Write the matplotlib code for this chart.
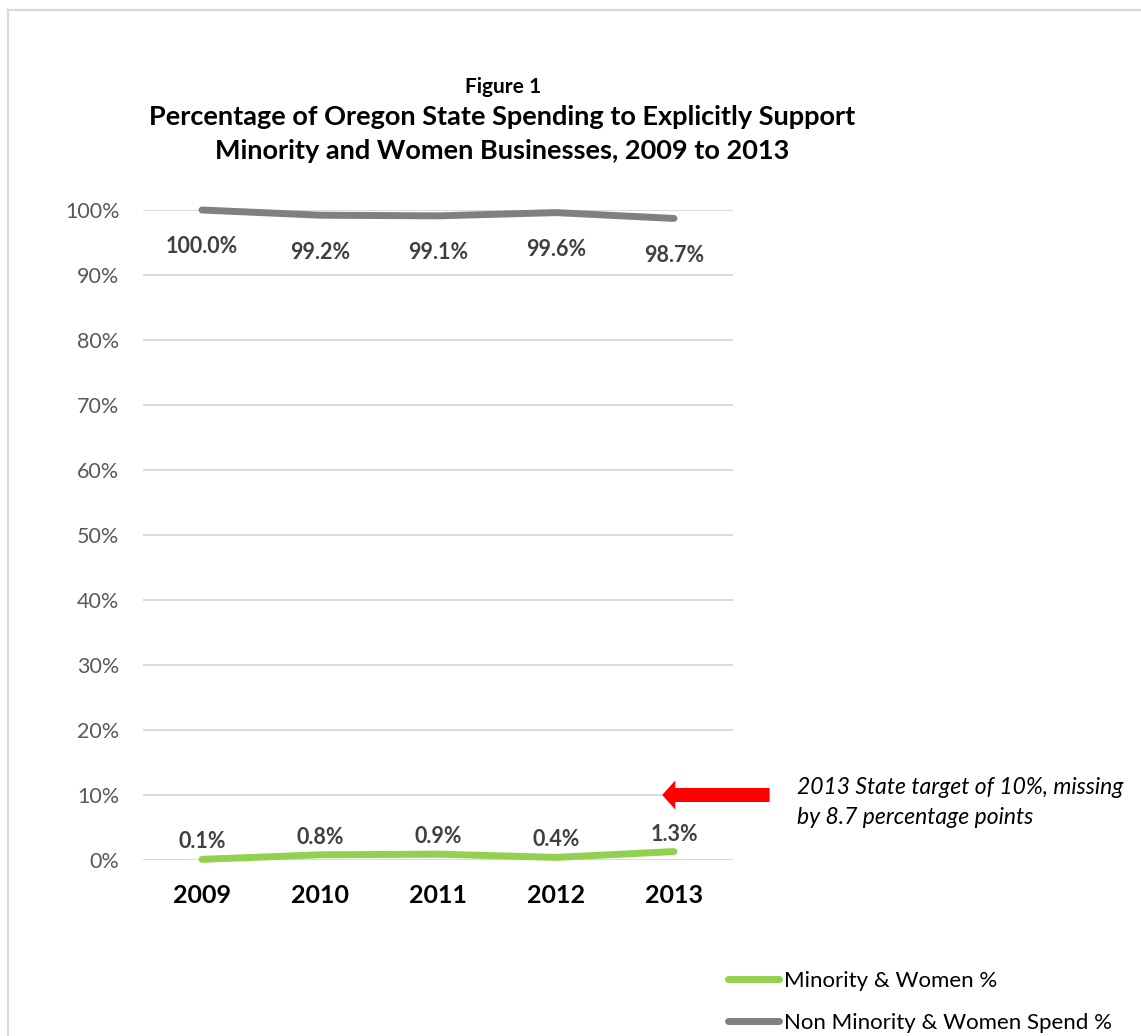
import matplotlib.pyplot as plt
from matplotlib.patches import FancyArrow
from matplotlib.lines import Line2D

plt.rcParams['font.family'] = ['Lato', 'DejaVu Sans']

years = ['2009', '2010', '2011', '2012', '2013']
minority_women = [0.1, 0.8, 0.9, 0.4, 1.3]
non_minority = [100.0, 99.2, 99.1, 99.6, 98.7]
target_2013 = 10.0
yticks = [0, 10, 20, 30, 40, 50, 60, 70, 80, 90, 100]

W, H = 1141, 1036
fig = plt.figure(figsize=(W / 100, H / 100), dpi=100)
fig.patch.set_facecolor('white')

# axes box in pixel terms: x 143..733, y 210..860
ax = fig.add_axes([143 / W, 1 - 860 / H, 590 / W, 650 / H])
x = [i + 0.5 for i in range(len(years))]

ax.set_xlim(0, len(years))
ax.set_ylim(0, 100)
ax.set_yticks(yticks)
ax.set_yticklabels([f'{v}%' for v in yticks])
ax.set_xticks(x)
ax.set_xticklabels(years, fontsize=18, fontweight='bold', color='black')
ax.tick_params(axis='y', length=0, pad=17, labelsize=15.5, labelcolor='#595959')
ax.tick_params(axis='x', length=0, pad=17)
ax.grid(axis='y', color='#D9D9D9', lw=1.4)
ax.set_axisbelow(True)
for s in ax.spines.values():
    s.set_visible(False)

green, = ax.plot(x, minority_women, color='#92D050', lw=5, solid_capstyle='round',
                 clip_on=False, label='Minority & Women %')
grey, = ax.plot(x, non_minority, color='#808080', lw=5, solid_capstyle='round',
                clip_on=False, label='Non Minority & Women Spend %')

for xi, v in zip(x, minority_women):
    ax.annotate(f'{v:.1f}%', (xi, v), xytext=(0, 5), textcoords='offset points',
                ha='center', va='bottom', fontsize=15.5, fontweight='bold', color='#404040')
for xi, v in zip(x, non_minority):
    ax.annotate(f'{v:.1f}%', (xi, v), xytext=(0, -19), textcoords='offset points',
                ha='center', va='top', fontsize=15.5, fontweight='bold', color='#404040')

# red arrow pointing at the 10% target line
tip, tail = 4.40, 5.31
ax.add_patch(FancyArrow(tail, target_2013, tip - tail, 0, width=14 / 6.5,
                        head_width=29 / 6.5, head_length=13 / 118,
                        length_includes_head=True, color='#FF0000', lw=0,
                        clip_on=False))
fig.text(797 / W, 1 - 788 / H, '2013 State target of 10%, missing',
         fontsize=16.5, style='italic', va='center', ha='left', color='black')
fig.text(797 / W, 1 - 817 / H, 'by 8.7 percentage points',
         fontsize=16.5, style='italic', va='center', ha='left', color='black')

# titles
fig.text(503 / W, 1 - 87 / H, 'Figure 1', fontsize=15, fontweight='bold',
         ha='center', va='center')
fig.text(502 / W, 1 - 117 / H, 'Percentage of Oregon State Spending to Explicitly Support',
         fontsize=19.5, fontweight='bold', ha='center', va='center')
fig.text(502 / W, 1 - 151 / H, 'Minority and Women Businesses, 2009 to 2013',
         fontsize=19.5, fontweight='bold', ha='center', va='center')

fig.legend(handles=[green, grey], loc='upper left',
           bbox_to_anchor=(728 / W, 1 - 971 / H), frameon=False, fontsize=16,
           handlelength=2.3, handletextpad=0.2, labelspacing=1.0,
           borderpad=0, borderaxespad=0)

# chart area border (top and left edges visible)
fig.add_artist(Line2D([7.5 / W, 1], [1 - 9.5 / H, 1 - 9.5 / H], color='#D9D9D9', lw=1.6))
fig.add_artist(Line2D([7.5 / W, 7.5 / W], [0, 1 - 9.5 / H], color='#D9D9D9', lw=1.6))

fig.savefig('out.png', dpi=100, facecolor='white')
